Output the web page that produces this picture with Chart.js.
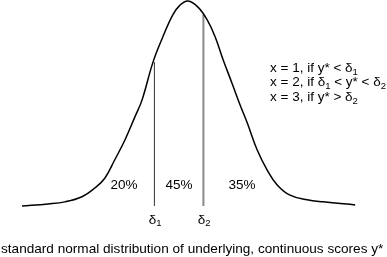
<!DOCTYPE html>
<html>
<head>
<meta charset="utf-8">
<script src="https://cdn.jsdelivr.net/npm/chart.js@4/dist/chart.umd.min.js"></script>
<style>
  html, body { margin: 0; padding: 0; background: #fff; }
</style>
</head>
<body>
<canvas id="chart" width="387" height="257"></canvas>
<script>
// curve: z-score and density height
const zScores = [-4.15, -3.5, -3.08, -2.65, -2.33, -2.08, -1.83, -1.58, -1.33, -1.15, -0.875, -0.63, -0.38, -0.2, 0, 0.25, 0.48, 0.68, 0.88, 1.1, 1.3, 1.48, 1.73, 1.98, 2.23, 2.55, 2.98, 3.38, 4.18];
const density = [0.000, 0.004, 0.008, 0.018, 0.035, 0.054, 0.090, 0.128, 0.173, 0.206, 0.280, 0.329, 0.372, 0.391, 0.399, 0.387, 0.362, 0.329, 0.284, 0.239, 0.197, 0.162, 0.109, 0.070, 0.041, 0.021, 0.012, 0.008, 0.002];

// thresholds delta1, delta2 and the curve height above them
const cutPoints = [-0.84, 0.385];
const cutHeights = [0.280, 0.372];
const cutSubs = ["1", "2"];

// shares of the three categories
const shareLabels = ["20%", "45%", "35%"];
const shareX = [-1.6, -0.225, 1.35];

const FONT = "'Liberation Sans', Arial, sans-serif";

// draws text with subscript pieces, parts = [[text, isSub], ...]
function drawRich(ctx, x, y, parts) {
    let cx = x;
    parts.forEach(([txt, sub]) => {
        ctx.font = (sub ? "9.5px " : "13.5px ") + FONT;
        ctx.fillText(txt, cx, sub ? y + 4 : y);
        cx += ctx.measureText(txt).width;
    });
}

const labelsPlugin = {
    id: "labels",
    afterDraw(chart) {
        const ctx = chart.ctx;
        const xs = chart.scales.x;
        const ys = chart.scales.y;
        ctx.save();
        ctx.fillStyle = "#000";
        ctx.textBaseline = "middle";

        // percentages inside the areas
        ctx.font = "13.5px " + FONT;
        ctx.textAlign = "center";
        shareLabels.forEach((t, i) => {
            ctx.fillText(t, xs.getPixelForValue(shareX[i]), ys.getPixelForValue(0.041));
        });

        // delta labels under the thresholds
        ctx.textAlign = "left";
        cutPoints.forEach((c, i) => {
            ctx.font = "13.5px " + FONT;
            const w = ctx.measureText("δ").width;
            const px = xs.getPixelForValue(c) - (w + 4) / 2;
            drawRich(ctx, px, ys.getPixelForValue(-0.027), [["δ", false], [cutSubs[i], true]]);
        });

        // coding rule
        drawRich(ctx, 270, 68, [["x = 1, if y* < δ", false], ["1", true]]);
        drawRich(ctx, 270, 82.5, [["x = 2, if δ", false], ["1", true], [" < y* < δ", false], ["2", true]]);
        drawRich(ctx, 270, 97, [["x = 3, if y* > δ", false], ["2", true]]);

        // caption
        ctx.font = "13.6px " + FONT;
        ctx.fillText("standard normal distribution of underlying, continuous scores y*", 1, 249);
        ctx.restore();
    }
};

const curve = zScores.map((z, i) => ({ x: z, y: density[i] }));

new Chart(document.getElementById("chart").getContext("2d"), {
    type: "scatter",
    data: {
        datasets: [
            {
                data: curve,
                showLine: true,
                borderColor: "#000",
                borderWidth: 1.5,
                pointRadius: 0,
                tension: 0.4,
            },
            {
                data: [{ x: cutPoints[0], y: 0 }, { x: cutPoints[0], y: cutHeights[0] }],
                showLine: true,
                borderColor: "#333",
                borderWidth: 1,
                pointRadius: 0,
            },
            {
                data: [{ x: cutPoints[1], y: 0 }, { x: cutPoints[1], y: cutHeights[1] }],
                showLine: true,
                borderColor: "#8a8a8a",
                borderWidth: 2,
                pointRadius: 0,
            },
        ],
    },
    options: {
        responsive: false,
        animation: false,
        events: [],
        layout: { padding: 0 },
        plugins: {
            legend: { display: false },
            tooltip: { enabled: false },
        },
        scales: {
            x: { type: "linear", min: -4.7, max: 4.975, display: false },
            y: { min: -0.0993, max: 0.4009, display: false },
        },
    },
    plugins: [labelsPlugin],
});
</script>
</body>
</html>
